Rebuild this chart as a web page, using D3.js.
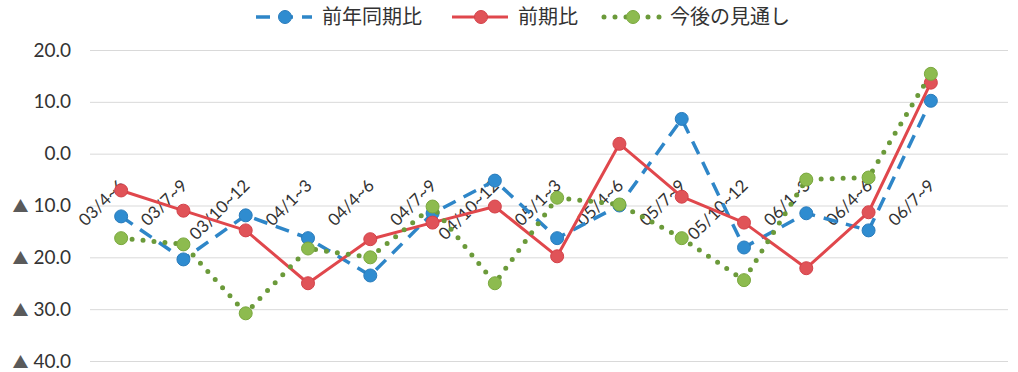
<!DOCTYPE html>
<html><head><meta charset="utf-8">
<script src="https://cdn.jsdelivr.net/npm/d3@7"></script>
<style>body{margin:0;background:#fff} svg{display:block}</style>
</head><body>
<svg id="c" width="1018" height="372"></svg>
<script>
const categories = ["03/4~6","03/7~9","03/10~12","04/1~3","04/4~6","04/7~9","04/10~12","05/1~3","05/4~6","05/7~9","05/10~12","06/1~3","06/4~6","06/7~9"];
const yoy = [-12.1,-20.4,-11.9,-16.3,-23.5,-11.5,-5.2,-16.3,-10.0,6.7,-18.1,-11.5,-14.8,10.2];
const qoq = [-7.1,-11.0,-14.8,-25.0,-16.5,-13.3,-10.2,-19.8,1.9,-8.3,-13.3,-22.1,-11.3,13.7];
const outlook = [-16.3,-17.5,-30.8,-18.3,-20.0,-10.2,-25.0,-8.5,-9.8,-16.3,-24.4,-5.0,-4.6,15.4];
const yTicks = [20,10,0,-10,-20,-30,-40];
const seriesNames = ["前年同期比","前期比","今後の見通し"];

const svg = d3.select("#c");
const x = d3.scaleBand().domain(categories).range([90, 962]);
const cx = c => x(c) + x.bandwidth()/2;
const y = d3.scaleLinear().domain([-40, 20]).range([361, 50]);
const gridRight = 1008, left = 90;

const yAxis = d3.axisLeft(y).tickValues(yTicks).tickFormat(v => Math.abs(v).toFixed(1))
  .tickSize(-(gridRight - left)).tickPadding(19);
const gy = svg.append("g").attr("transform", `translate(${left},0)`).call(yAxis);
gy.select(".domain").remove();
gy.selectAll(".tick line").attr("stroke", "#d9d9d9").attr("stroke-width", 1);
gy.selectAll(".tick text").attr("fill", "#333")
  .style("font-family", "Lato, 'Open Sans', sans-serif").style("font-size", "19px")
  .each(function(v) {
    if (v < 0) {
      const t = d3.select(this);
      const num = t.text();
      t.text(null);
      t.append("tspan").attr("fill", "#5a5a5a").style("font-family", "'Noto Sans CJK JP'").style("font-size", "16px").text("▲");
      t.append("tspan").text(" " + num);
    }
  });

// x labels
const y0 = y(0);
svg.append("g").selectAll("text").data(categories).join("text")
  .attr("transform", d => `translate(${cx(d)+5},${y0+33}) rotate(-45)`)
  .attr("text-anchor", "end")
  .attr("fill", "#333")
  .style("font-family", "Lato, 'Open Sans', sans-serif").style("font-size", "17px")
  .text(d => d);

const series = [
  {name: seriesNames[0], values: yoy, stroke: "#2E86C8", width: 3.5, dash: "14,9", cap: "butt", fill: "#2F8CD0", mstroke: "#2A7CBC"},
  {name: seriesNames[1], values: qoq, stroke: "#E0474C", width: 3, dash: null, cap: "butt", fill: "#E05358", mstroke: "#D4424A"},
  {name: seriesNames[2], values: outlook, stroke: "#6B9A3A", width: 5, dash: "0,11", cap: "round", fill: "#8DBB4F", mstroke: "#7AA83E"}
];

const line = d3.line().x((d,i) => cx(categories[i])).y(d => y(d));
series.forEach(s => {
  const g = svg.append("g");
  g.append("path").datum(s.values).attr("d", line)
    .attr("fill", "none").attr("stroke", s.stroke).attr("stroke-width", s.width)
    .attr("stroke-dasharray", s.dash).attr("stroke-linecap", s.cap).attr("stroke-linejoin", "round");
  g.selectAll("circle").data(s.values).join("circle")
    .attr("cx", (d,i) => cx(categories[i])).attr("cy", d => y(d)).attr("r", 6.5)
    .attr("fill", s.fill).attr("stroke", s.mstroke).attr("stroke-width", 1);
});

// legend
const legX = [256, 452, 604];
const legY = 17;
series.forEach((s, i) => {
  const g = svg.append("g").attr("transform", `translate(${legX[i]},${legY})`);
  g.append("line").attr("x1", 0).attr("x2", 56).attr("y1", 0).attr("y2", 0)
    .attr("stroke", s.stroke).attr("stroke-width", s.width)
    .attr("stroke-dasharray", s.dash).attr("stroke-linecap", s.cap);
  g.append("circle").attr("cx", 29).attr("cy", 0).attr("r", 6.5)
    .attr("fill", s.fill).attr("stroke", s.mstroke).attr("stroke-width", 1);
  g.append("text").attr("x", 66).attr("y", 0).attr("dy", "0.36em")
    .attr("fill", "#333")
    .style("font-family", "'Noto Sans CJK JP', sans-serif").style("font-size", "20px")
    .text(s.name);
});
</script>
</body></html>
